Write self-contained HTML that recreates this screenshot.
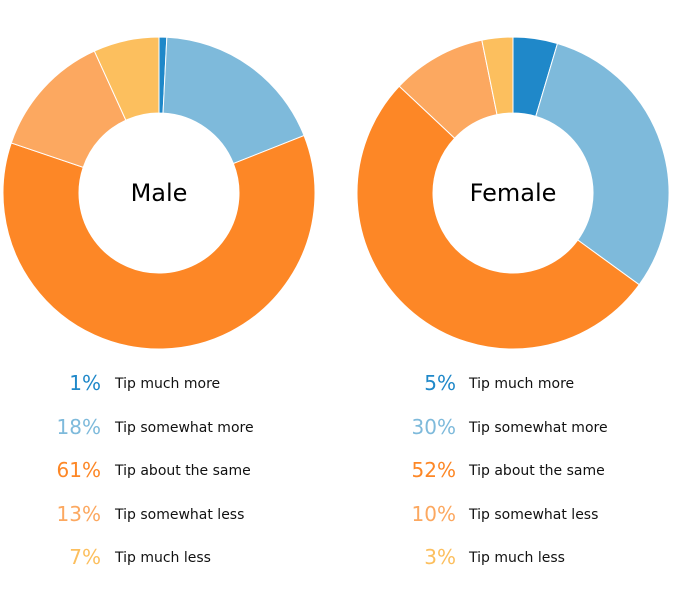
<!DOCTYPE html>
<html><head><meta charset="utf-8">
<style>
body{margin:0;background:#fff;width:675px;height:593px;overflow:hidden;font-family:"DejaVu Sans","Liberation Sans",sans-serif}
svg{position:absolute;left:0;top:0}
</style></head><body>
<svg id="s" width="675" height="593" xmlns="http://www.w3.org/2000/svg">
<text x="159" y="201" text-anchor="middle" font-size="24" fill="#000" font-family="DejaVu Sans, sans-serif">Male</text>
<text x="513" y="201" text-anchor="middle" font-size="24" fill="#000" font-family="DejaVu Sans, sans-serif">Female</text>
<g font-family="DejaVu Sans, sans-serif">
<g font-size="20" text-anchor="end">
<text x="101" y="390" fill="#1f88c9">1%</text>
<text x="101" y="434" fill="#7ebadb">18%</text>
<text x="101" y="477" fill="#fd8726">61%</text>
<text x="101" y="521" fill="#fca860">13%</text>
<text x="101" y="564" fill="#fcbf5e">7%</text>
<text x="456" y="390" fill="#1f88c9">5%</text>
<text x="456" y="434" fill="#7ebadb">30%</text>
<text x="456" y="477" fill="#fd8726">52%</text>
<text x="456" y="521" fill="#fca860">10%</text>
<text x="456" y="564" fill="#fcbf5e">3%</text>
</g>
<g font-size="14" fill="#111">
<text x="115" y="388">Tip much more</text>
<text x="115" y="432">Tip somewhat more</text>
<text x="115" y="475">Tip about the same</text>
<text x="115" y="519">Tip somewhat less</text>
<text x="115" y="562">Tip much less</text>
<text x="469" y="388">Tip much more</text>
<text x="469" y="432">Tip somewhat more</text>
<text x="469" y="475">Tip about the same</text>
<text x="469" y="519">Tip somewhat less</text>
<text x="469" y="562">Tip much less</text>
</g></g>
</svg>
<script>
var cols=["#1f88c9","#7ebadb","#fd8726","#fca860","#fcbf5e"];
function donut(cx,cy,R,r,vals){
 var s=document.getElementById("s"),tot=vals.reduce(function(a,b){return a+b},0),a=0,out="";
 vals.forEach(function(v,i){
  var a0=a/tot*2*Math.PI,a1=(a+v)/tot*2*Math.PI;a+=v;
  function p(rr,t){return [cx+rr*Math.sin(t),cy-rr*Math.cos(t)]}
  var l=(a1-a0)>Math.PI?1:0,P1=p(R,a0),P2=p(R,a1),P3=p(r,a1),P4=p(r,a0);
  var d="M"+P1+"A"+R+","+R+" 0 "+l+" 1 "+P2+"L"+P3+"A"+r+","+r+" 0 "+l+" 0 "+P4+"Z";
  out+='<path d="'+d+'" fill="'+cols[i]+'" stroke="#fff" stroke-width="1"/>';
 });
 s.insertAdjacentHTML("afterbegin",out);
}
donut(159,193,156,80,[0.8,18.2,61.2,13,6.8]);
donut(513,193,156,80,[4.6,30.4,52,9.8,3.2]);
</script>
</body></html>
